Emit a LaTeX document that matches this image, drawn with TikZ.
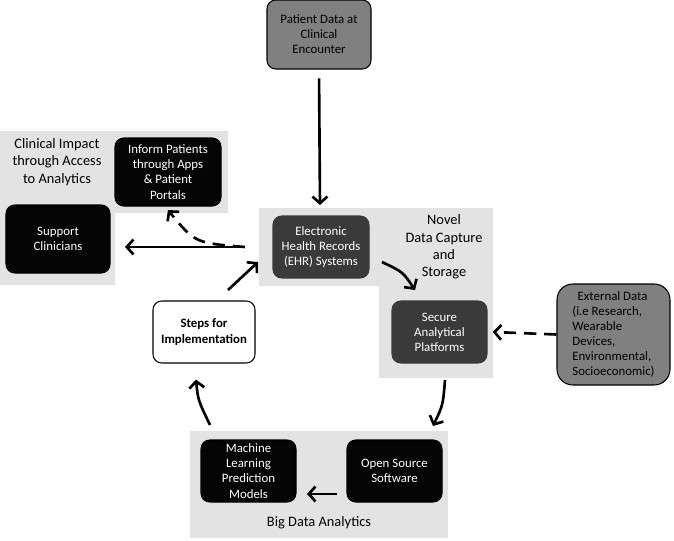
\documentclass[tikz,border=0pt]{standalone}
\usepackage{fontspec}
\setmainfont{Carlito}
\usetikzlibrary{arrows.meta}
\definecolor{PanelGrey}{HTML}{E3E3E3}
\definecolor{BoxBlack}{HTML}{050505}
\definecolor{BoxDark}{HTML}{3A3A3A}
\definecolor{BoxMid}{HTML}{808080}
\tikzset{
    % Base box style
    basebox/.style={
        draw=black,
        line width=0.6pt,
        rounded corners=5pt,
        minimum width=95*0.02cm,
        minimum height=62*0.02cm,
        inner sep=1pt,
        align=center,
        font=\fontsize{7.3}{8.6}\selectfont
    },
    % Black box with white text
    blackbox/.style={
        basebox,
        fill=BoxBlack,
        text=white
    },
    % Dark grey box with white text
    darkbox/.style={
        basebox,
        draw=BoxDark,
        fill=BoxDark,
        text=white
    },
    % Grey source box
    sourcebox/.style={
        basebox,
        fill=BoxMid,
        text=black
    },
    % White box
    whitebox/.style={
        basebox,
        fill=white,
        font=\fontsize{7.3}{8.6}\selectfont\bfseries
    },
    % Panel label
    panellabel/.style={
        align=center,
        font=\fontsize{8.2}{9.8}\selectfont
    },
    % Grey panel
    panel/.style={
        fill=PanelGrey,
        draw=none
    },
    % Arrow styles
    flow/.style={
        -{Straight Barb[length=3.8pt,width=8.5pt,line width=1.5pt]},
        line width=1.5pt,
        draw=black
    },
    dashflow/.style={
        flow,
        dash pattern=on 7pt off 4.5pt
    }
}
\begin{document}
\begin{tikzpicture}[x=0.02cm,y=-0.02cm]
    \useasboundingbox (0,0) rectangle (674,541);

    % panels
    \fill[panel] (0,131) -- (228,131) -- (228,213) -- (115,213) -- (115,285) -- (0,285) -- cycle;
    \fill[panel] (259,208) -- (493,208) -- (493,378) -- (379,378) -- (379,286) -- (259,286) -- cycle;
    \fill[panel] (190,431) rectangle (448,538);

    % panel labels
    \node[panellabel] (clinicallbl) at (57,162) {Clinical Impact\\through Access\\to Analytics};
    \node[panellabel] (novellbl) at (444,247) {Novel\\Data Capture\\and\\Storage};
    \node[panellabel] (bigdatalbl) at (319,523) {Big Data Analytics};

    % boxes
    \node[sourcebox, minimum width=104*0.02cm, minimum height=69*0.02cm] (patient) at (319,34.5) {Patient Data at\\Clinical\\Encounter};
    \node[blackbox, minimum width=106*0.02cm, minimum height=68*0.02cm] (inform) at (168,172) {Inform Patients\\through Apps\\\& Patient\\Portals};
    \node[blackbox, minimum width=104*0.02cm, minimum height=68*0.02cm] (support) at (58,239) {Support\\Clinicians};
    \node[darkbox, minimum width=96*0.02cm] (ehr) at (321,247) {Electronic\\Health Records\\(EHR) Systems};
    \node[darkbox] (secure) at (439.5,332) {Secure\\Analytical\\Platforms};
    \node[sourcebox, rounded corners=9pt, minimum width=113*0.02cm, minimum height=101*0.02cm, align=left] (external) at (613.5,334.5) {\hspace{3pt}External Data\\(i.e Research,\\Wearable\\Devices,\\Environmental,\\Socioeconomic)};
    \node[whitebox, minimum width=102*0.02cm] (steps) at (204,332) {Steps for\\Implementation};
    \node[blackbox] (ml) at (248.5,471) {Machine\\Learning\\Prediction\\Models};
    \node[blackbox] (oss) at (394.5,471) {Open Source\\Software};

    % connector ends
    \coordinate (ehrtop) at (320,205);
    \coordinate (ehrleft) at (245,247);
    \coordinate (ehrlow) at (258,262);
    \coordinate (ehrright) at (382,262);
    \coordinate (securetop) at (415,290);
    \coordinate (securelow) at (445,380);
    \coordinate (bigdatatop) at (433,426);
    \coordinate (bigdataleft) at (210,425);
    \coordinate (stepsout) at (228,290);
    \coordinate (supportin) at (125,247);
    \coordinate (ossout) at (337,494);
    \coordinate (mlin) at (307,494);

    % connectors
    \draw[flow, shorten <=5pt] (patient.south) -- (ehrtop);
    \draw[flow] (ehrright) .. controls (403,272) .. (securetop);
    \draw[dashflow] (external.west) -- ([xshift=3pt]secure.east);
    \draw[flow] (securelow) .. controls (443,405) .. (bigdatatop);
    \draw[flow] (ossout) -- (mlin);
    \draw[flow] (bigdataleft) .. controls (198,400) .. ([yshift=-16*0.02cm]steps.south -| 196,0);
    \draw[flow] (stepsout) -- (ehrlow);
    \draw[flow] (ehrleft) -- (supportin);
    \draw[dashflow] (ehrleft) .. controls (195,243) .. ([yshift=-2pt]inform.south);
\end{tikzpicture}
\end{document}
